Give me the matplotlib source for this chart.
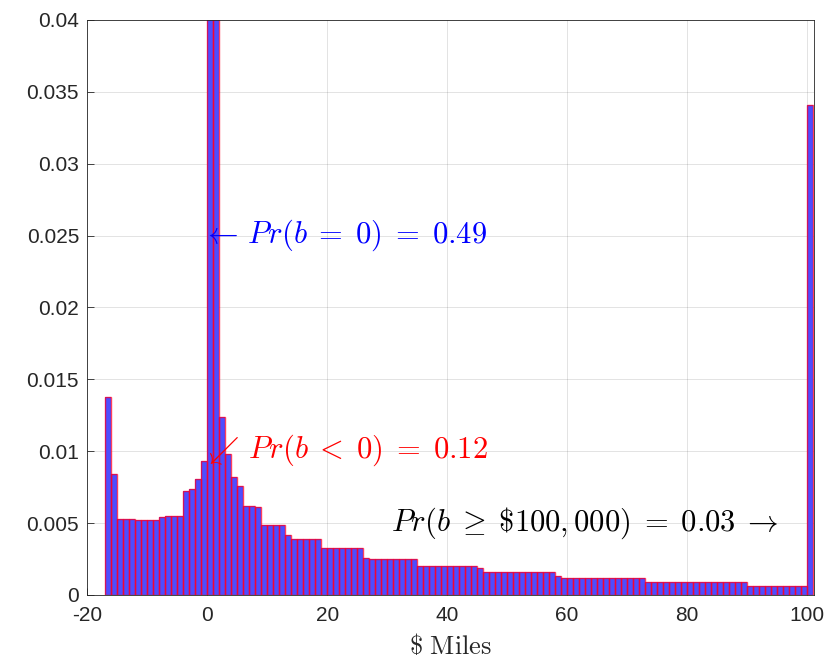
import matplotlib
matplotlib.use("Agg")
import matplotlib.pyplot as plt
import numpy as np

plt.rcParams["font.family"] = ["Liberation Sans", "DejaVu Sans"]
plt.rcParams["mathtext.fontset"] = "cm"
plt.rcParams["axes.unicode_minus"] = False

# histogram: bins of $1,000 from -17 to 101 (thousands), probability per bin
bin_edges = np.arange(-17, 102)
probs = [
    0.0138, 0.0084, 0.0053, 0.0053, 0.0053, 0.0052, 0.0052, 0.0052, 0.0052,  # -17..-9
    0.0054, 0.0055, 0.0055, 0.0055, 0.0072, 0.0074, 0.0081, 0.0093,          # -8..-1
    0.49, 0.045, 0.0124, 0.0098, 0.0082, 0.0076, 0.0062, 0.0062, 0.0061,     # 0..8
    0.0049, 0.0049, 0.0049, 0.0049, 0.0042,                                  # 9..13
    0.0039, 0.0039, 0.0039, 0.0039, 0.0039,                                  # 14..18
    0.0033, 0.0033, 0.0033, 0.0033, 0.0033, 0.0033, 0.0033, 0.0026,          # 19..26
    0.0025, 0.0025, 0.0025, 0.0025, 0.0025, 0.0025, 0.0025, 0.0025,          # 27..34
    0.0020, 0.0020, 0.0020, 0.0020, 0.0020, 0.0020, 0.0020, 0.0020,          # 35..42
    0.0020, 0.0020, 0.0019,                                                  # 43..45
    0.0016, 0.0016, 0.0016, 0.0016, 0.0016, 0.0016, 0.0016, 0.0016,          # 46..53
    0.0016, 0.0016, 0.0016, 0.0016, 0.0013,                                  # 54..58
    0.0012, 0.0012, 0.0012, 0.0012, 0.0012, 0.0012, 0.0012, 0.0012,          # 59..66
    0.0012, 0.0012, 0.0012, 0.0012, 0.0012, 0.0012,                          # 67..72
    0.0009, 0.0009, 0.0009, 0.0009, 0.0009, 0.0009, 0.0009, 0.0009, 0.0009,  # 73..81
    0.0009, 0.0009, 0.0009, 0.0009, 0.0009, 0.0009, 0.0009, 0.0009,          # 82..89
    0.00065, 0.00065, 0.00065, 0.00065, 0.00065,                             # 90..94
    0.00065, 0.00065, 0.00065, 0.00065, 0.00065,                             # 95..99
    0.0341,                                                                  # 100+
]

xticks = [-20, 0, 20, 40, 60, 80, 100]
yticks = [0, 0.005, 0.01, 0.015, 0.02, 0.025, 0.03, 0.035, 0.04]
ytick_labels = ["0", "0.005", "0.01", "0.015", "0.02", "0.025", "0.03", "0.035", "0.04"]

gray = (0.15, 0.15, 0.15)

fig = plt.figure(figsize=(8.32, 6.63), dpi=100)
ax = fig.add_axes([0.105, 0.1026, 0.873, 0.8674])

# faces first, then red outlines on top so every bin edge shows
ax.bar(bin_edges[:-1], probs, width=1, align="edge",
       color=(0.3, 0.3, 1.0), linewidth=0, zorder=2)
ax.bar(bin_edges[:-1], probs, width=1, align="edge", fill=False,
       edgecolor=(1.0, 0.0, 0.15, 0.75), linewidth=1.0, zorder=2.5)

ax.set_xlim(-20, 101.1)
ax.set_ylim(0, 0.04)
ax.set_xticks(xticks)
ax.set_yticks(yticks)
ax.set_yticklabels(ytick_labels)
ax.tick_params(direction="in", length=5, width=0.6, colors=gray, labelsize=15,
               top=False, right=False)
ax.tick_params(axis="y", pad=6)
ax.tick_params(axis="x", pad=8)
ax.grid(True, color=(0.15, 0.15, 0.15), alpha=0.13, linewidth=0.7, zorder=0)
ax.set_axisbelow(True)
for s in ax.spines.values():
    s.set_color(gray)
    s.set_linewidth(0.6)
    s.set_zorder(3)

ax.set_xlabel(r"$\$\ \mathrm{Miles}$", fontsize=19, color=gray, labelpad=6)

ax.text(-0.9, 0.025, r"$\leftarrow\, Pr(b\;=\;0)\;=\;0.49$", color="blue",
        fontsize=22, ha="left", va="center")
ax.text(-0.8, 0.0101, r"$\swarrow\, Pr(b\;<\;0)\;=\;0.12$", color="red",
        fontsize=22, ha="left", va="center")
ax.text(95.3, 0.0050, r"$Pr(b\;\geq\;\$100,000)\;=\;0.03\;\rightarrow$",
        color="black", fontsize=22, ha="right", va="center")

fig.savefig("out.png", dpi=100)
